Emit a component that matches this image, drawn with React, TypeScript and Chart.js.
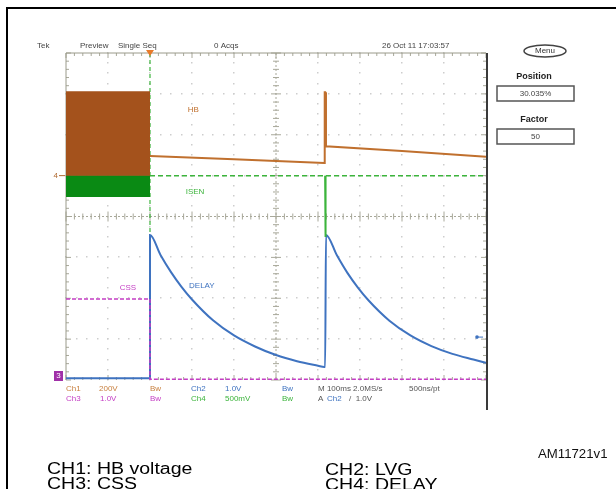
import React, { useEffect, useRef } from "react";
import { Chart, registerables } from "chart.js";

Chart.register(...registerables);

// horizontal axis: screen divisions (0..10), vertical axis: divisions (-4..4)
const X_MIN = 0;
const X_MAX = 10;
const Y_MIN = -4;
const Y_MAX = 4;

// CH1 HB: burst block then decaying level
const hbBurstX = [0, 2];
const hbBurstTop = [3.05, 3.05];
const hbBurstBase = 1.0;
const hbX = [2, 4, 6.15, 6.16, 6.17, 6.19, 8, 10];
const hbY = [1.48, 1.4, 1.31, 3.04, 3.04, 1.72, 1.6, 1.46];

// ISEN (green)
const isenBurstX = [0, 2];
const isenBurstTop = [1.0, 1.0];
const isenBurstBase = 0.48;
const isenX = [2, 10];
const isenY = [1.0, 1.0];
const isenSpikeX = [6.17, 6.17, 6.19];
const isenSpikeY = [1.0, -0.5, -0.5];
const trigLineX = [2, 2];
const trigLineY = [4, -0.45];

// CH4 DELAY (blue)
const delayX = [0, 2, 2.0, 2.25, 2.5, 2.75, 3, 3.5, 4, 4.5, 5, 5.5, 6, 6.15, 6.17, 6.19, 6.45, 6.7, 6.95, 7.2, 7.7, 8.2, 8.7, 9.2, 9.7, 10];
const delayY = [-3.96, -3.96, -0.45, -0.94, -1.36, -1.72, -2.03, -2.54, -2.91, -3.18, -3.39, -3.54, -3.65, -3.68, -3.68, -0.45, -0.95, -1.38, -1.74, -2.05, -2.55, -2.91, -3.17, -3.36, -3.5, -3.58];

// CH3 CSS (magenta)
const cssX = [0, 2, 2, 10];
const cssY = [-2.02, -2.02, -3.98, -3.98];

const topTexts = ["Tek", "Preview", "Single Seq", "0 Acqs", "26 Oct 11 17:03:57"];
const legendLeft = ["CH1: HB voltage", "CH3: CSS"];
const legendRight = ["CH2: LVG", "CH4: DELAY"];

const BROWN = "#a4521c";
const BROWN_LINE = "#c0702e";
const GREEN = "#0a8a14";
const GREEN_LINE = "#3cb43c";
const BLUE = "#3f73c0";
const MAGENTA = "#c43ec4";

const pts = (xs: number[], ys: number[]) => xs.map((x, i) => ({ x, y: ys[i] }));

const overlay = {
  id: "overlay",
  beforeDatasetsDraw(chart: any) {
    const ctx = chart.ctx;
    const xs = chart.scales.x;
    const ys = chart.scales.y;
    const L = xs.getPixelForValue(X_MIN), R = xs.getPixelForValue(X_MAX);
    const T = ys.getPixelForValue(Y_MAX), B = ys.getPixelForValue(Y_MIN);
    ctx.save();
    // dotted grid
    ctx.fillStyle = "#cdcdcd";
    for (let i = 1; i < 10; i++) {
      if (i === 5) continue;
      const px = xs.getPixelForValue(i);
      for (let v = Y_MIN; v <= Y_MAX + 1e-6; v += 0.25) {
        ctx.fillRect(Math.round(px) - 1, Math.round(ys.getPixelForValue(v)) - 1, 1.5, 1.5);
      }
    }
    for (let j = -3; j <= 3; j++) {
      if (j === 0) continue;
      const py = ys.getPixelForValue(j);
      for (let u = X_MIN; u <= X_MAX + 1e-6; u += 0.25) {
        ctx.fillRect(Math.round(xs.getPixelForValue(u)) - 1, Math.round(py) - 1, 1.5, 1.5);
      }
    }
    // center cross with ticks
    ctx.strokeStyle = "#a8a89a";
    ctx.lineWidth = 1;
    const cx = xs.getPixelForValue(5), cy = ys.getPixelForValue(0);
    ctx.setLineDash([2, 2]);
    ctx.beginPath();
    ctx.moveTo(L, cy); ctx.lineTo(R, cy);
    ctx.moveTo(cx, T); ctx.lineTo(cx, B);
    ctx.stroke();
    ctx.setLineDash([]);
    ctx.beginPath();
    for (let u = X_MIN; u <= X_MAX + 1e-6; u += 0.2) {
      const px = xs.getPixelForValue(u);
      const big = Math.abs(u - Math.round(u)) < 1e-6;
      const h = big ? 5 : 3;
      ctx.moveTo(px, cy - h); ctx.lineTo(px, cy + h);
      ctx.moveTo(px, T); ctx.lineTo(px, T + (big ? 5 : 3));
      ctx.moveTo(px, B); ctx.lineTo(px, B - (big ? 5 : 3));
    }
    for (let v = Y_MIN; v <= Y_MAX + 1e-6; v += 0.2) {
      const py = ys.getPixelForValue(v);
      const big = Math.abs(v - Math.round(v)) < 1e-6;
      const h = big ? 5 : 3;
      ctx.moveTo(cx - h, py); ctx.lineTo(cx + h, py);
      ctx.moveTo(L, py); ctx.lineTo(L + (big ? 5 : 3), py);
      ctx.moveTo(R, py); ctx.lineTo(R - (big ? 5 : 3), py);
    }
    ctx.stroke();
    // border
    ctx.strokeStyle = "#9a9a8a";
    ctx.beginPath();
    ctx.moveTo(L, B); ctx.lineTo(L, T); ctx.lineTo(R, T);
    ctx.stroke();
    ctx.restore();
  },
  afterDatasetsDraw(chart: any) {
    const ctx = chart.ctx;
    const xs = chart.scales.x;
    const ys = chart.scales.y;
    const L = xs.getPixelForValue(X_MIN), R = xs.getPixelForValue(X_MAX);
    const T = ys.getPixelForValue(Y_MAX), B = ys.getPixelForValue(Y_MIN);
    ctx.save();
    // right dark border extended
    ctx.strokeStyle = "#3a3a3a";
    ctx.lineWidth = 2;
    ctx.beginPath();
    ctx.moveTo(R + 1, T); ctx.lineTo(R + 1, B + 30);
    ctx.stroke();

    // trigger marker
    const tx = xs.getPixelForValue(2);
    ctx.fillStyle = "#e87a2a";
    ctx.beginPath();
    ctx.moveTo(tx - 4, T - 3); ctx.lineTo(tx + 4, T - 3); ctx.lineTo(tx, T + 3); ctx.closePath();
    ctx.fill();

    // CH4 ground marker "4"
    const gy = ys.getPixelForValue(1.0);
    ctx.font = "8px 'Liberation Sans', Arial, sans-serif";
    ctx.textBaseline = "middle";
    ctx.fillStyle = "#b06a30";
    ctx.textAlign = "right";
    ctx.fillText("4", L - 8, gy);
    ctx.strokeStyle = "#b06a30";
    ctx.lineWidth = 1;
    ctx.beginPath(); ctx.moveTo(L - 7, gy); ctx.lineTo(L - 1, gy); ctx.stroke();

    // CH3 ground marker box
    ctx.fillStyle = "#a030a8";
    ctx.fillRect(L - 12, B - 9, 9, 10);
    ctx.fillStyle = "#ffffff";
    ctx.textAlign = "center";
    ctx.fillText("3", L - 7.5, B - 4);

    // blue reference marker on right
    const by = ys.getPixelForValue(-2.95);
    ctx.fillStyle = BLUE;
    ctx.beginPath(); ctx.arc(R - 9, by, 1.8, 0, Math.PI * 2); ctx.fill();
    ctx.strokeStyle = BLUE;
    ctx.beginPath(); ctx.moveTo(R - 9, by); ctx.lineTo(R - 3, by); ctx.stroke();

    // trace labels
    ctx.font = "8px 'Liberation Sans', Arial, sans-serif";
    ctx.textAlign = "left";
    ctx.fillStyle = "#c0702e";
    ctx.fillText("HB", xs.getPixelForValue(2.9), ys.getPixelForValue(2.6));
    ctx.fillStyle = "#3cb43c";
    ctx.fillText("ISEN", xs.getPixelForValue(2.85), ys.getPixelForValue(0.6));
    ctx.fillStyle = MAGENTA;
    ctx.fillText("CSS", xs.getPixelForValue(1.28), ys.getPixelForValue(-1.75));
    ctx.fillStyle = BLUE;
    ctx.fillText("DELAY", xs.getPixelForValue(2.93), ys.getPixelForValue(-1.7));
    ctx.restore();
  },
  afterDraw(chart: any) {
    const ctx = chart.ctx;
    ctx.save();
    // outer frame
    ctx.strokeStyle = "#000";
    ctx.lineWidth = 2;
    ctx.beginPath();
    ctx.moveTo(7, 489); ctx.lineTo(7, 8); ctx.lineTo(616, 8);
    ctx.stroke();

    const f8 = "8px 'Liberation Sans', Arial, sans-serif";
    ctx.font = f8;
    ctx.textBaseline = "middle";
    ctx.textAlign = "left";
    ctx.fillStyle = "#444";
    const topX = [37, 80, 118, 214, 382];
    topTexts.forEach((t, i) => ctx.fillText(t, topX[i], 46));

    // status rows
    const row1 = 389, row2 = 399;
    const put = (t: string, x: number, y: number, c: string) => { ctx.fillStyle = c; ctx.fillText(t, x, y); };
    put("Ch1", 66, row1, "#c88040");
    put("200V", 99, row1, "#c88040");
    put("Ch3", 66, row2, MAGENTA);
    put("1.0V", 100, row2, MAGENTA);
    put("Bw", 150, row1, "#c88040");
    put("Bw", 150, row2, MAGENTA);
    put("Ch2", 191, row1, BLUE);
    put("1.0V", 225, row1, BLUE);
    put("Ch4", 191, row2, GREEN_LINE);
    put("500mV", 225, row2, GREEN_LINE);
    put("Bw", 282, row1, BLUE);
    put("Bw", 282, row2, GREEN_LINE);
    put("M 100ms 2.0MS/s", 318, row1, "#555");
    put("500ns/pt", 409, row1, "#555");
    put("A", 318, row2, "#555");
    put("Ch2", 327, row2, BLUE);
    put("/  1.0V", 349, row2, "#555");

    // right panel
    ctx.strokeStyle = "#444";
    ctx.lineWidth = 1.5;
    ctx.beginPath();
    ctx.ellipse(545, 51, 21, 6, 0, 0, Math.PI * 2);
    ctx.stroke();
    ctx.fillStyle = "#333";
    ctx.textAlign = "center";
    ctx.fillText("Menu", 545, 51);
    ctx.font = "bold 9px 'Liberation Sans', Arial, sans-serif";
    ctx.fillStyle = "#222";
    ctx.fillText("Position", 534, 77);
    ctx.fillText("Factor", 534, 120);
    ctx.strokeStyle = "#555";
    ctx.lineWidth = 1.5;
    ctx.strokeRect(497, 86, 77, 15);
    ctx.strokeRect(497, 129, 77, 15);
    ctx.font = f8;
    ctx.fillStyle = "#444";
    ctx.fillText("30.035%", 535.5, 94);
    ctx.fillText("50", 535.5, 137);

    const wide = (t: string, x: number, y: number, s: number) => {
      ctx.save();
      ctx.translate(x, y);
      ctx.scale(s, 1);
      ctx.fillText(t, 0, 0);
      ctx.restore();
    };
    ctx.textAlign = "left";
    ctx.textBaseline = "alphabetic";
    ctx.font = "12px 'Liberation Sans', Arial, sans-serif";
    ctx.fillStyle = "#111";
    wide("AM11721v1", 538, 458, 1.1);

    // legend lines (wide face)
    ctx.font = "16px 'Liberation Sans', Arial, sans-serif";
    ctx.fillStyle = "#000";
    wide(legendLeft[0], 47, 474, 1.22);
    wide(legendLeft[1], 47, 489, 1.22);
    wide(legendRight[0], 325, 475, 1.22);
    wide(legendRight[1], 325, 490, 1.22);
    ctx.restore();
  },
};

export default function App() {
  const ref = useRef<HTMLCanvasElement | null>(null);
  useEffect(() => {
    document.body.style.margin = "0";
    const canvas = ref.current!;
    const chart = new Chart(canvas, {
      type: "line",
      data: {
        datasets: [
          {
            data: pts(hbBurstX, hbBurstTop),
            borderColor: BROWN,
            backgroundColor: BROWN,
            borderWidth: 1,
            fill: { value: hbBurstBase },
            pointRadius: 0,
          },
          {
            data: pts(isenBurstX, isenBurstTop),
            borderColor: GREEN,
            backgroundColor: GREEN,
            borderWidth: 1,
            fill: { value: isenBurstBase },
            pointRadius: 0,
          },
          {
            data: pts(trigLineX, trigLineY),
            borderColor: GREEN_LINE,
            borderWidth: 1.2,
            borderDash: [4, 3],
            fill: false,
            pointRadius: 0,
          },
          {
            data: pts(isenX, isenY),
            borderColor: GREEN_LINE,
            borderWidth: 1.5,
            borderDash: [5, 3],
            fill: false,
            pointRadius: 0,
          },
          {
            data: pts(hbX, hbY),
            borderColor: BROWN_LINE,
            borderWidth: 2,
            fill: false,
            pointRadius: 0,
          },
          {
            data: pts(isenSpikeX, isenSpikeY),
            borderColor: GREEN_LINE,
            borderWidth: 2,
            fill: false,
            pointRadius: 0,
          },
          {
            data: pts(cssX, cssY),
            borderColor: MAGENTA,
            borderWidth: 1.5,
            borderDash: [4, 2],
            fill: false,
            pointRadius: 0,
          },
          {
            data: pts(delayX, delayY),
            borderColor: BLUE,
            borderWidth: 2,
            fill: false,
            pointRadius: 0,
            cubicInterpolationMode: "monotone",
          },
        ],
      },
      options: {
        animation: false,
        responsive: false,
        devicePixelRatio: 1,
        parsing: true,
        layout: { padding: { left: 66, top: 53, right: 130, bottom: 109 } },
        scales: {
          x: { type: "linear", min: X_MIN, max: X_MAX, display: false },
          y: { type: "linear", min: Y_MIN, max: Y_MAX, display: false },
        },
        plugins: { legend: { display: false }, tooltip: { enabled: false } },
        elements: { line: { tension: 0 } },
      },
      plugins: [overlay],
    } as any);
    return () => chart.destroy();
  }, []);
  return (
    <div style={{ position: "fixed", left: 0, top: 0, width: 616, height: 489, background: "#fff" }}>
      <canvas ref={ref} width={616} height={489} style={{ width: 616, height: 489, display: "block" }} />
    </div>
  );
}
